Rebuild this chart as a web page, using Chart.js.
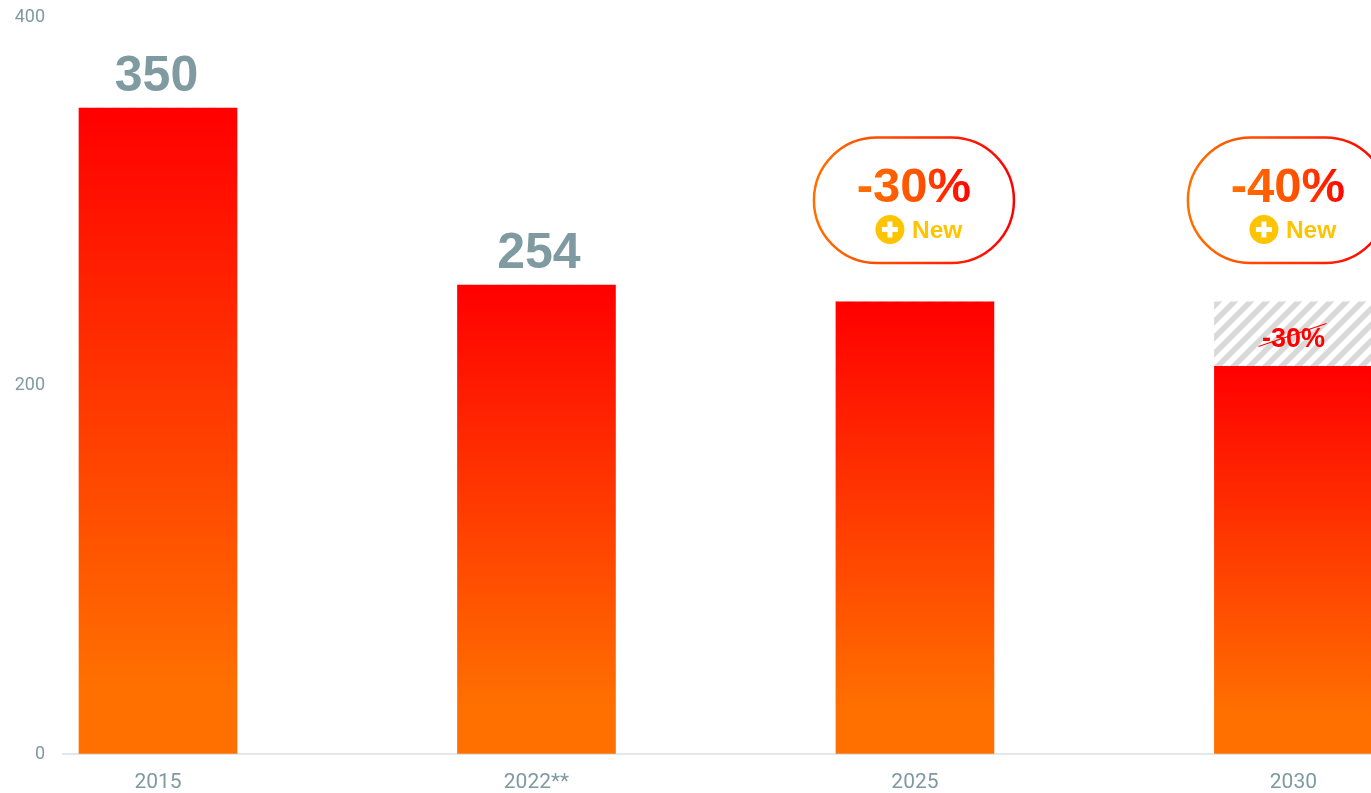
<!DOCTYPE html>
<html><head><meta charset="utf-8">
<style>html,body{margin:0;padding:0;background:#fff;overflow:hidden}canvas{display:block}</style>
<script src="https://cdn.jsdelivr.net/npm/chart.js@4"></script>
</head><body>
<div style="width:1371px;height:793px"><canvas id="c" width="1371" height="793"></canvas></div>
<script>
const categories = ['2015', '2022**', '2025', '2030'];
const solidValues = [350, 254, 245, 210];
const hatchedValues = [0, 0, 0, 35];
const valueLabels = ['350', '254', '', ''];
const calloutTexts = ['', '', '-30%', '-40%'];
const calloutNotes = ['', '', 'New', 'New'];
const hatchedLabels = ['', '', '', '-30%'];
const yTicks = [0, 200, 400];

const RED = '#ff0000', ORANGE = '#ff7000', GREY = '#7f9aa1', YELLOW = '#ffc400';
const SANS = '"Liberation Sans", Arial, sans-serif';
const labelNudge = [-1.5, 2.5, 0, 0];
const calloutNudge = [0, 0, 0, -4.5];

function hatch() {
  const p = document.createElement('canvas');
  p.width = 16; p.height = 16;
  const g = p.getContext('2d');
  g.fillStyle = '#fff'; g.fillRect(0, 0, 16, 16);
  g.strokeStyle = '#d9d9d9'; g.lineWidth = 5.5;
  for (const o of [-16, 0, 16]) {
    g.beginPath(); g.moveTo(o - 2, 18); g.lineTo(o + 18, -2); g.stroke();
  }
  return g.createPattern(p, 'repeat');
}

const overlay = {
  id: 'overlay',
  afterDatasetsDraw(chart) {
    const { ctx, scales: { x, y } } = chart;
    ctx.save();
    ctx.textAlign = 'center';
    ctx.textBaseline = 'alphabetic';
    categories.forEach((_, i) => {
      const barX = x.getPixelForValue(i);
      if (valueLabels[i]) {
        const top = y.getPixelForValue(solidValues[i] + hatchedValues[i]);
        ctx.font = 'bold 50px ' + SANS;
        ctx.fillStyle = GREY;
        ctx.fillText(valueLabels[i], barX + labelNudge[i], top - 17.5);
      }
      if (calloutTexts[i]) {
        const cx = barX + calloutNudge[i];
        const l = cx - 101, t = 137.5, w = 200, h = 125.5, r = 62.75;
        const g = ctx.createLinearGradient(l, 0, l + w, 0);
        g.addColorStop(0, ORANGE); g.addColorStop(1, RED);
        ctx.strokeStyle = g; ctx.lineWidth = 2.5;
        ctx.beginPath(); ctx.roundRect(l, t, w, h, r); ctx.stroke();
        const tx = cx - 1;
        const g2 = ctx.createLinearGradient(tx - 58, 0, tx + 58, 0);
        g2.addColorStop(0, ORANGE); g2.addColorStop(0.55, '#ff5200'); g2.addColorStop(1, RED);
        ctx.fillStyle = g2;
        ctx.font = 'bold 49px ' + SANS;
        ctx.fillText(calloutTexts[i], tx, 202);
        const bx = cx - 25, by = 229.5;
        ctx.fillStyle = YELLOW;
        ctx.beginPath(); ctx.arc(bx, by, 14.5, 0, Math.PI * 2); ctx.fill();
        ctx.fillStyle = '#fff';
        ctx.fillRect(bx - 8, by - 2.5, 16, 5);
        ctx.fillRect(bx - 2.5, by - 8, 5, 16);
        ctx.fillStyle = YELLOW;
        ctx.font = 'bold 24.5px ' + SANS;
        ctx.textAlign = 'left';
        ctx.fillText(calloutNotes[i], cx - 3, 238);
        ctx.textAlign = 'center';
      }
      if (hatchedLabels[i]) {
        const mid = (y.getPixelForValue(solidValues[i]) + y.getPixelForValue(solidValues[i] + hatchedValues[i])) / 2;
        ctx.fillStyle = RED;
        ctx.font = 'bold 27px ' + SANS;
        ctx.fillText(hatchedLabels[i], barX, mid + 12.5);
        ctx.strokeStyle = RED; ctx.lineWidth = 1.2;
        ctx.beginPath(); ctx.moveTo(barX - 35, mid + 12.5); ctx.lineTo(barX + 33, mid - 10.5); ctx.stroke();
      }
    });
    ctx.restore();
  }
};

function barFill(c) {
  if (c.type !== 'data' || !c.chart.chartArea) return RED;
  const y = c.chart.scales.y;
  const top = y.getPixelForValue(solidValues[c.dataIndex]);
  const bottom = y.getPixelForValue(0);
  if (!isFinite(top) || !isFinite(bottom)) return RED;
  const g = c.chart.ctx.createLinearGradient(0, top, 0, bottom);
  g.addColorStop(0, RED); g.addColorStop(0.9, ORANGE); g.addColorStop(1, ORANGE);
  return g;
}

new Chart(document.getElementById('c'), {
  type: 'bar',
  data: {
    datasets: [
      { label: 'Solid', data: solidValues.map((v, i) => ({ x: i, y: v })), backgroundColor: barFill, barThickness: 158, clip: false, stack: 's' },
      { label: 'Removed', data: hatchedValues.map((v, i) => ({ x: i, y: v })), backgroundColor: hatch(), barThickness: 158, clip: false, stack: 's' }
    ]
  },
  options: {
    responsive: false,
    animation: false,
    layout: { padding: { top: 16 } },
    plugins: { legend: { display: false }, tooltip: { enabled: false } },
    scales: {
      x: {
        type: 'linear', stacked: true, offset: false,
        min: -0.251, max: 3.205,
        afterBuildTicks(s) { s.ticks = categories.map((_, i) => ({ value: i })); },
        afterFit(s) { s.height = 39.5; s.paddingLeft = 0; s.paddingRight = 0; },
        grid: { display: false, drawTicks: false },
        border: { display: true, color: '#e1e7eb', width: 2 },
        ticks: {
          autoSkip: false, maxRotation: 0, padding: 17, color: GREY,
          font: { family: 'Roboto', size: 21 },
          callback: v => categories[v]
        }
      },
      y: {
        stacked: true, min: 0, max: 400,
        afterBuildTicks(s) { s.ticks = yTicks.map(v => ({ value: v })); },
        afterFit(s) { s.width = 63; s.paddingTop = 0; s.paddingBottom = 0; },
        grid: { display: false, drawTicks: false },
        border: { display: false },
        ticks: { padding: 18, labelOffset: 1, color: GREY, font: { family: 'Roboto', size: 18 } }
      }
    }
  },
  plugins: [overlay]
});
</script>
</body></html>
